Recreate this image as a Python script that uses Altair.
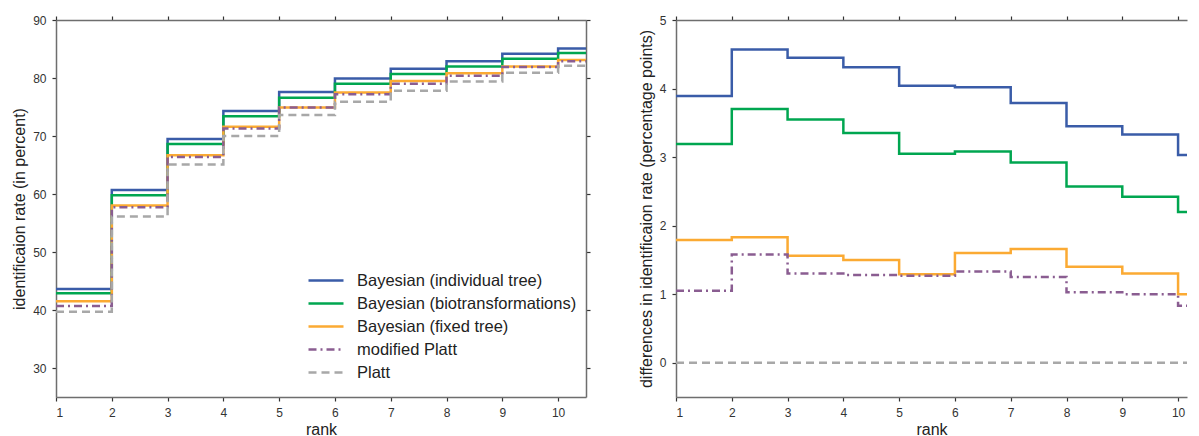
import altair as alt
import pandas as pd

ranks = list(range(1, 11))
methods = [
    "Bayesian (individual tree)",
    "Bayesian (biotransformations)",
    "Bayesian (fixed tree)",
    "modified Platt",
    "Platt",
]
colors = ["#3a5ca8", "#00a650", "#fbaa33", "#8a5d91", "#a8a8a8"]
dashes = [[1, 0], [1, 0], [1, 0], [8, 4, 2, 4], [8, 5]]

# identification rate (percent)
rate_individual = [43.6, 60.7, 69.5, 74.3, 77.6, 79.9, 81.6, 82.9, 84.2, 85.1]
rate_biotrans = [42.9, 59.8, 68.6, 73.4, 76.6, 79.0, 80.7, 82.0, 83.3, 84.3]
rate_fixed = [41.5, 58.0, 66.7, 71.6, 74.9, 77.5, 79.5, 80.8, 82.0, 83.1]
rate_modplatt = [40.7, 57.7, 66.4, 71.3, 74.9, 77.2, 79.0, 80.4, 81.9, 82.9]
rate_platt = [39.7, 56.1, 65.1, 70.0, 73.6, 75.9, 77.8, 79.4, 80.9, 82.1]

# differences vs. Platt (percentage points)
diff_individual = [3.89, 4.57, 4.45, 4.31, 4.04, 4.02, 3.79, 3.45, 3.33, 3.03]
diff_biotrans = [3.19, 3.70, 3.55, 3.35, 3.05, 3.08, 2.92, 2.57, 2.42, 2.20]
diff_fixed = [1.79, 1.83, 1.56, 1.50, 1.29, 1.60, 1.66, 1.40, 1.30, 1.00]
diff_modplatt = [1.05, 1.58, 1.30, 1.28, 1.27, 1.33, 1.25, 1.03, 1.00, 0.83]
diff_platt = [0.0, 0.0, 0.0, 0.0, 0.0, 0.0, 0.0, 0.0, 0.0, 0.0]


def build(series):
    rows = []
    for m, vals in zip(methods, series):
        for r, v in zip(ranks, vals):
            rows.append({"rank": r, "value": v, "method": m})
        # hold the last step to the right edge (clipped)
        rows.append({"rank": ranks[-1] + 1, "value": vals[-1], "method": m})
    return pd.DataFrame(rows)


left_df = build([rate_individual, rate_biotrans, rate_fixed, rate_modplatt, rate_platt])
right_df = build([diff_individual, diff_biotrans, diff_fixed, diff_modplatt, diff_platt])

FONT = "Liberation Sans"
axis_common = dict(
    grid=False,
    domainColor="#6e6e6e",
    domainWidth=1.5,
    tickColor="#333333",
    tickSize=4,
    tickWidth=1.2,
    labelFont=FONT,
    labelFontSize=12,
    labelColor="#333333",
    labelPadding=6,
    titleFont=FONT,
    titleFontSize=16,
    titleFontWeight="normal",
    titleColor="#222222",
)


def panel(df, xdom, ydom, yticks, ytitle, width, legend, right_axis):
    xs = alt.Scale(domain=xdom, nice=False, zero=False)
    ys = alt.Scale(domain=ydom, nice=False, zero=False)
    if legend:
        leg = alt.Legend(
            title=None,
            orient="none",
            legendX=251,
            legendY=252,
            symbolType="stroke",
            symbolSize=1225,
            symbolStrokeWidth=2.5,
            labelFont=FONT,
            labelFontSize=16.5,
            labelColor="#222222",
            labelLimit=400,
            labelOffset=12,
            clipHeight=17,
            rowPadding=6,
        )
        color = alt.Color("method:N", scale=alt.Scale(domain=methods, range=colors), legend=leg)
        dash = alt.StrokeDash("method:N", scale=alt.Scale(domain=methods, range=dashes), legend=leg)
    else:
        color = alt.Color("method:N", scale=alt.Scale(domain=methods, range=colors), legend=None)
        dash = alt.StrokeDash("method:N", scale=alt.Scale(domain=methods, range=dashes), legend=None)

    lines = alt.Chart(df).mark_line(interpolate="step-after", strokeWidth=2.5, clip=True).encode(
        x=alt.X("rank:Q", scale=xs, axis=alt.Axis(values=ranks, title="rank", orient="bottom",
                                                 titlePadding=3, **axis_common)),
        y=alt.Y("value:Q", scale=ys, axis=alt.Axis(values=yticks, title=ytitle, orient="left",
                                                  titlePadding=5, **axis_common)),
        color=color,
        strokeDash=dash,
    )

    ghost_enc = dict(
        x=alt.X("rank:Q", scale=xs, axis=alt.Axis(values=ranks, title=None, labels=False, orient="top", **axis_common)),
        detail="method:N",
    )
    if right_axis:
        ghost_enc["y"] = alt.Y("value:Q", scale=ys, axis=alt.Axis(values=yticks, title=None, labels=False,
                                                                  orient="right", **axis_common))
    else:
        ghost_enc["y"] = alt.Y("value:Q", scale=ys, axis=alt.Axis(values=yticks, title=None, labels=False,
                                                                  orient="left", ticks=False, domain=False,
                                                                  **{k: v for k, v in axis_common.items() if k not in ("tickSize", "tickColor", "tickWidth", "domainColor", "domainWidth")}))
    ghost = alt.Chart(df).mark_line(opacity=0, clip=True).encode(**ghost_enc)

    return alt.layer(lines, ghost).resolve_axis(x="independent", y="independent").properties(
        width=width, height=377
    )


left = panel(left_df, [1, 10.5], [25, 90], [30, 40, 50, 60, 70, 80, 90],
             "identificaion rate (in percent)", 530, True, True)
right = panel(right_df, [1, 10.16], [-0.5, 5], [0, 1, 2, 3, 4, 5],
              "differences in identificaion rate (percentage points)", 511, False, False)

chart = alt.hconcat(left, right, spacing=45).resolve_scale(
    color="independent", strokeDash="independent"
).properties(
    padding={"left": 3, "top": 5, "right": 0, "bottom": 0}
).configure_view(stroke="transparent")

chart.save("out.html", embed_options={"renderer": "svg", "actions": False})
